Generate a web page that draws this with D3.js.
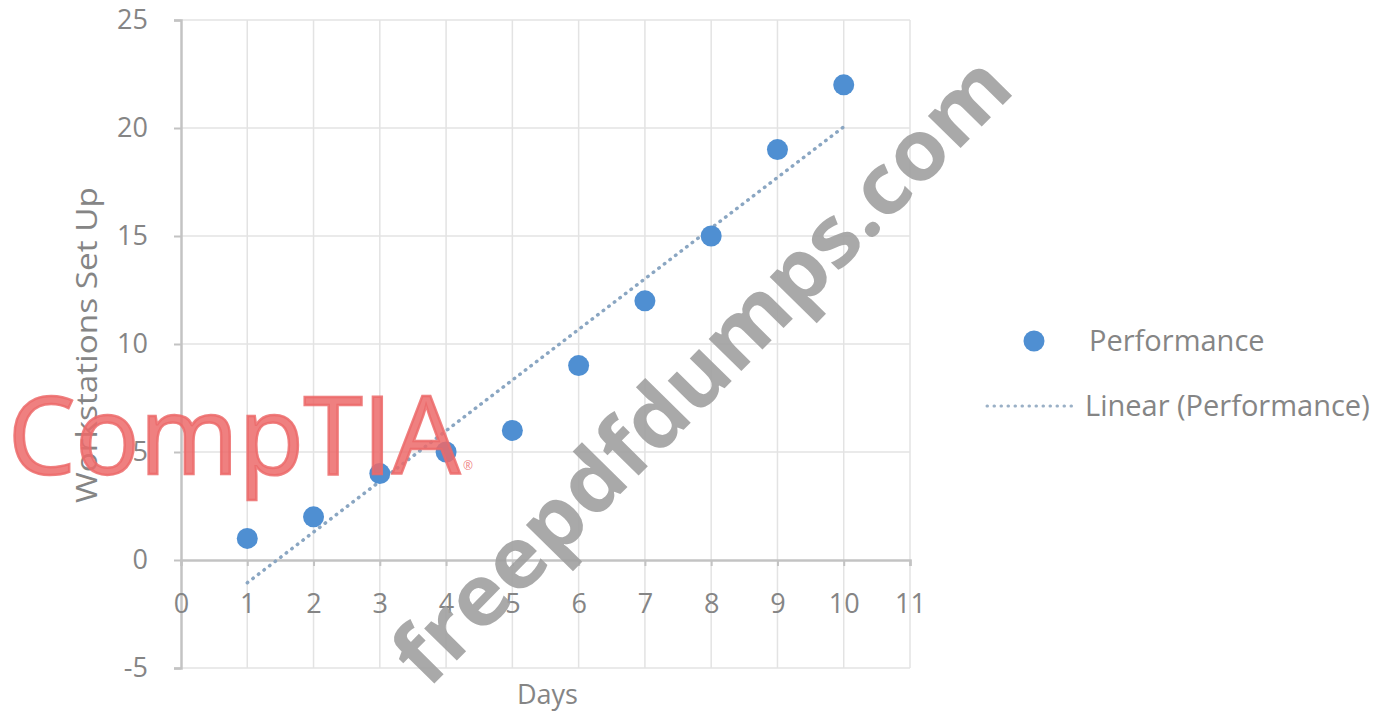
<!DOCTYPE html>
<html>
<head>
<meta charset="utf-8">
<script src="https://cdn.jsdelivr.net/npm/d3@7"></script>
<style>
  html, body { margin: 0; padding: 0; background: #fff; }
  svg { display: block; }
  text { font-family: "Open Sans", "DejaVu Sans", sans-serif; }
</style>
</head>
<body>
<svg id="chart" width="1387" height="713"></svg>
<script>
// Workstations set up per day
const days = [1, 2, 3, 4, 5, 6, 7, 8, 9, 10];
const workstations = [1, 2, 4, 5, 6, 9, 12, 15, 19, 22];
const xTicks = [0, 1, 2, 3, 4, 5, 6, 7, 8, 9, 10, 11];
const yTicks = [-5, 0, 5, 10, 15, 20, 25];
const seriesName = "Performance";
const trendName = "Linear (Performance)";
const xTitle = "Days";
const yTitle = "Workstations Set Up";

const svg = d3.select("#chart");
const plot = { left: 181, right: 910, top: 20, bottom: 668 };

const x = d3.scaleLinear().domain([0, 11]).range([plot.left, plot.right]);
const y = d3.scaleLinear().domain([-5, 25]).range([plot.bottom, plot.top]);

const textGray = "#858585";
const gridGray = "#e3e3e3";
const axisGray = "#c3c3c3";
const pointBlue = "#4f8fd2";
const fmt = d => String(d);

// Gridlines
const grid = svg.append("g");
grid.selectAll("line.v").data(xTicks.filter(d => d !== 0)).join("line")
  .attr("x1", d => x(d)).attr("x2", d => x(d))
  .attr("y1", y(25)).attr("y2", y(-5))
  .attr("stroke", gridGray).attr("stroke-width", 1.5);
grid.selectAll("line.h").data(yTicks.filter(d => d !== 0)).join("line")
  .attr("x1", x(0)).attr("x2", x(11))
  .attr("y1", d => y(d)).attr("y2", d => y(d))
  .attr("stroke", gridGray).attr("stroke-width", 1.5);

// Y axis at x = 0
const yAxis = d3.axisLeft(y).tickValues(yTicks).tickFormat(fmt).tickSize(7).tickPadding(26);
const gy = svg.append("g").attr("transform", `translate(${x(0)},0)`).call(yAxis);
gy.select(".domain").attr("stroke", axisGray).attr("stroke-width", 2.5);
gy.selectAll(".tick line").attr("stroke", axisGray).attr("stroke-width", 2);
gy.selectAll(".tick text").attr("fill", textGray).attr("font-size", 27);

// X axis at y = 0
const xAxis = d3.axisBottom(x).tickValues(xTicks).tickFormat(fmt).tickSize(6).tickPadding(28);
const gx = svg.append("g").attr("transform", `translate(0,${y(0)})`).call(xAxis);
gx.select(".domain").attr("stroke", axisGray).attr("stroke-width", 2.5);
gx.selectAll(".tick line").attr("stroke", axisGray).attr("stroke-width", 2);
gx.selectAll(".tick text").attr("fill", textGray).attr("font-size", 27);

// Least-squares trend line
const mx = d3.mean(days), my = d3.mean(workstations);
const sxy = d3.sum(days, (d, i) => (d - mx) * (workstations[i] - my));
const sxx = d3.sum(days, d => (d - mx) * (d - mx));
const slope = sxy / sxx, intercept = my - slope * mx;
const trend = [d3.min(days), d3.max(days)].map(d => [d, intercept + slope * d]);

svg.append("path")
  .datum(trend)
  .attr("d", d3.line().x(d => x(d[0])).y(d => y(d[1])))
  .attr("fill", "none")
  .attr("stroke", "#8aa6c2")
  .attr("stroke-width", 3.5)
  .attr("stroke-linecap", "round")
  .attr("stroke-dasharray", "0.5,6.5");

// Data points
svg.append("g").selectAll("circle").data(days).join("circle")
  .attr("cx", d => x(d))
  .attr("cy", (d, i) => y(workstations[i]))
  .attr("r", 10.5)
  .attr("fill", pointBlue);

// Axis titles
svg.append("text")
  .attr("x", (plot.left + plot.right) / 2 + 2).attr("y", 704)
  .attr("text-anchor", "middle").attr("fill", textGray).attr("font-size", 27)
  .text(xTitle);
svg.append("text")
  .attr("transform", `translate(97,345) rotate(-90)`)
  .attr("text-anchor", "middle").attr("fill", textGray).attr("font-size", 30)
  .attr("textLength", 316).attr("lengthAdjust", "spacingAndGlyphs")
  .text(yTitle);

// Legend
const legend = svg.append("g");
legend.append("circle").attr("cx", 1034).attr("cy", 341).attr("r", 10.5).attr("fill", pointBlue);
legend.append("text").attr("x", 1089).attr("y", 351)
  .attr("fill", textGray).attr("font-size", 29).text(seriesName);
legend.append("line")
  .attr("x1", 987).attr("x2", 1073).attr("y1", 406).attr("y2", 406)
  .attr("stroke", "#9ab0c6").attr("stroke-width", 3)
  .attr("stroke-linecap", "round").attr("stroke-dasharray", "0.5,6.5");
legend.append("text").attr("x", 1085).attr("y", 416)
  .attr("fill", textGray).attr("font-size", 29).text(trendName);

// Overlaid marks
svg.append("text")
  .attr("x", 8).attr("y", 474)
  .attr("fill", "#ec6a6a").attr("fill-opacity", 0.85)
  .attr("stroke", "#ec6a6a").attr("stroke-opacity", 0.85).attr("stroke-width", 2.5)
  .attr("font-family", "Lato, 'Open Sans', sans-serif")
  .attr("font-size", 108)
  .attr("textLength", 452).attr("lengthAdjust", "spacingAndGlyphs")
  .text("CompTIA");
svg.append("text")
  .attr("x", 463).attr("y", 470)
  .attr("fill", "#ec6a6a").attr("fill-opacity", 0.85)
  .attr("font-size", 12)
  .text("®");
svg.append("text")
  .attr("transform", "translate(428,690) rotate(-45.5)")
  .attr("fill", "#a0a0a0").attr("fill-opacity", 0.9)
  .attr("font-family", "'Liberation Sans', Arial, sans-serif").attr("font-weight", "bold")
  .attr("font-size", 84)
  .attr("textLength", 840).attr("lengthAdjust", "spacingAndGlyphs")
  .text("freepdfdumps.com");
</script>
</body>
</html>
